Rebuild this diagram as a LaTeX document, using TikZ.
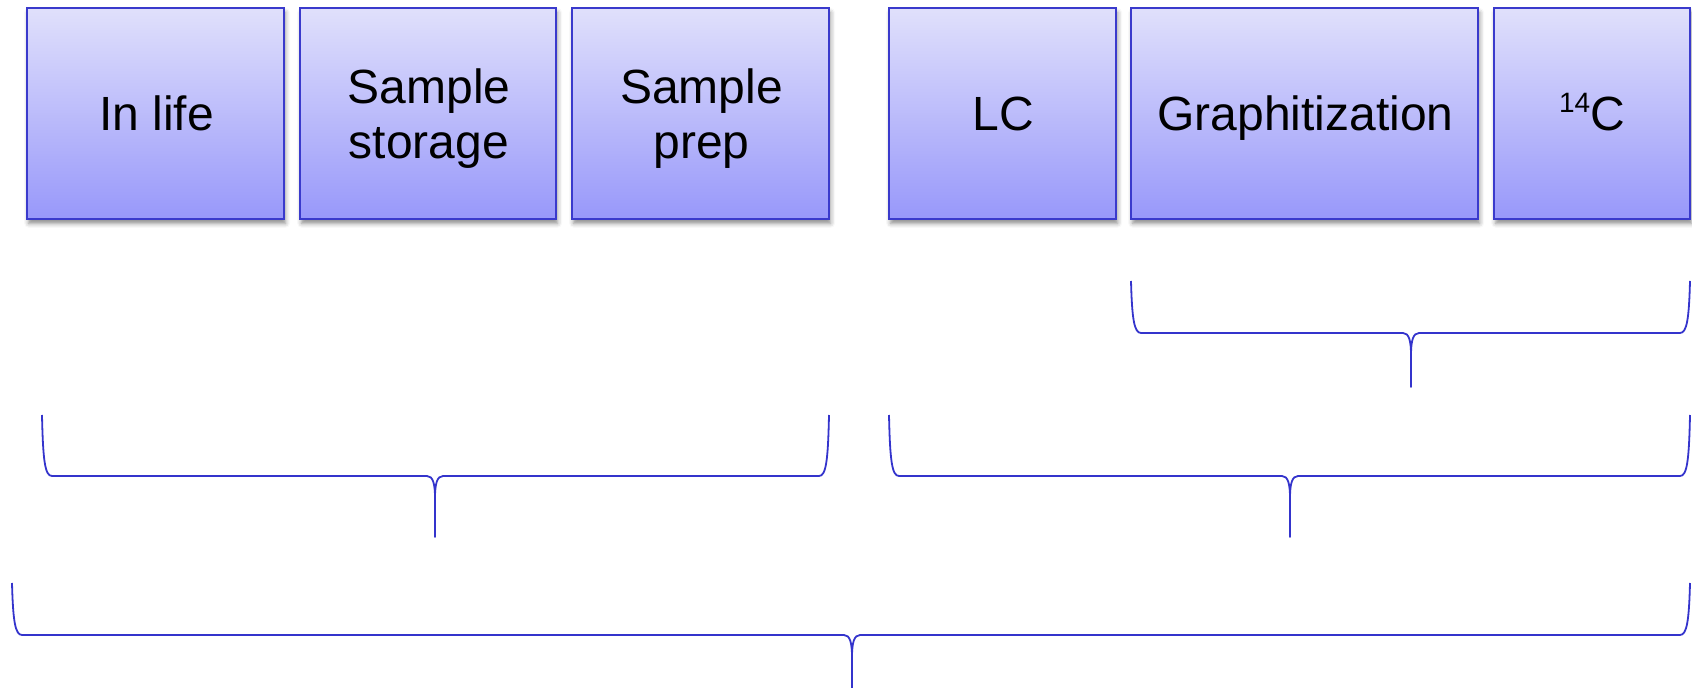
\documentclass[tikz,border=0pt]{standalone}
\usepackage{fontspec}
\setmainfont{Liberation Sans}
\usetikzlibrary{shadows.blur}
\definecolor{boxline}{RGB}{58,58,204}
\definecolor{boxtop}{RGB}{224,224,251}
\definecolor{boxbot}{RGB}{152,152,250}
\definecolor{braceline}{RGB}{52,52,204}
\tikzset{
  stage/.style={draw=boxline, line width=1pt, top color=boxtop, bottom color=boxbot,
    minimum height=105.5pt, inner sep=0pt,
    blur shadow={shadow xshift=0.8pt, shadow yshift=-2.2pt, shadow blur radius=2.2pt, shadow opacity=45}},
  stagetext/.style={anchor=base, inner sep=0pt, align=center,
    font=\fontsize{24}{27.5}\selectfont},
  brace/.style={draw=braceline, line width=0.9pt, line join=round}
}
% #1 left x, #2 right x, #3 tip x, #4 arm top y, #5 bar y, #6 tip y
\newcommand\spanbrace[6]{%
  \draw[brace] (#1,#4) .. controls (#1+1,#5-15) and (#1+3,#5) .. (#1+10,#5)
    -- (#3-8,#5) .. controls (#3-2,#5) and (#3,#5+8) .. (#3,#5+22) -- (#3,#6)
    -- (#3,#5+22) .. controls (#3,#5+8) and (#3+2,#5) .. (#3+8,#5)
    -- (#2-10,#5) .. controls (#2-3,#5) and (#2-1,#5-15) .. (#2,#4);}
\begin{document}
\begin{tikzpicture}[x=0.5pt, y=-0.5pt]
  \useasboundingbox (0,0) rectangle (1692,688);
  % process stages
  \node[stage, minimum width=128.5pt] (inlife)  at (155.5,113.5) {};
  \node[stage, minimum width=128pt]   (storage) at (428,113.5)   {};
  \node[stage, minimum width=128.5pt] (prep)    at (700.5,113.5) {};
  \node[stage, minimum width=113.5pt] (lc)      at (1002.5,113.5) {};
  \node[stage, minimum width=173.5pt] (graph)   at (1304.5,113.5) {};
  \node[stage, minimum width=98pt]    (c14)     at (1592,113.5)  {};
  % stage captions (base = baseline of the last line)
  \node[stagetext] (inlife-t)  at (156.5,131)   {In life};
  \node[stagetext] (storage-t) at (429,158.3)   {Sample\\storage};
  \node[stagetext] (prep-t)    at (701.5,158.3) {Sample\\prep};
  \node[stagetext] (lc-t)      at (1003.5,131)  {LC};
  \node[stagetext] (graph-t)   at (1305.5,131)  {Graphitization};
  \node[stagetext] (c14-t)     at (1592,131)
    {\raisebox{9.2pt}{\fontsize{14}{15}\selectfont 14}C};
  % grouping braces
  \spanbrace{1131}{1690}{1411}{281}{333}{387}
  \spanbrace{42}{829}{435}{415}{476}{537}
  \spanbrace{889}{1690}{1290}{415}{476}{537}
  \spanbrace{12}{1690}{852}{583}{635}{688}
\end{tikzpicture}
\end{document}
